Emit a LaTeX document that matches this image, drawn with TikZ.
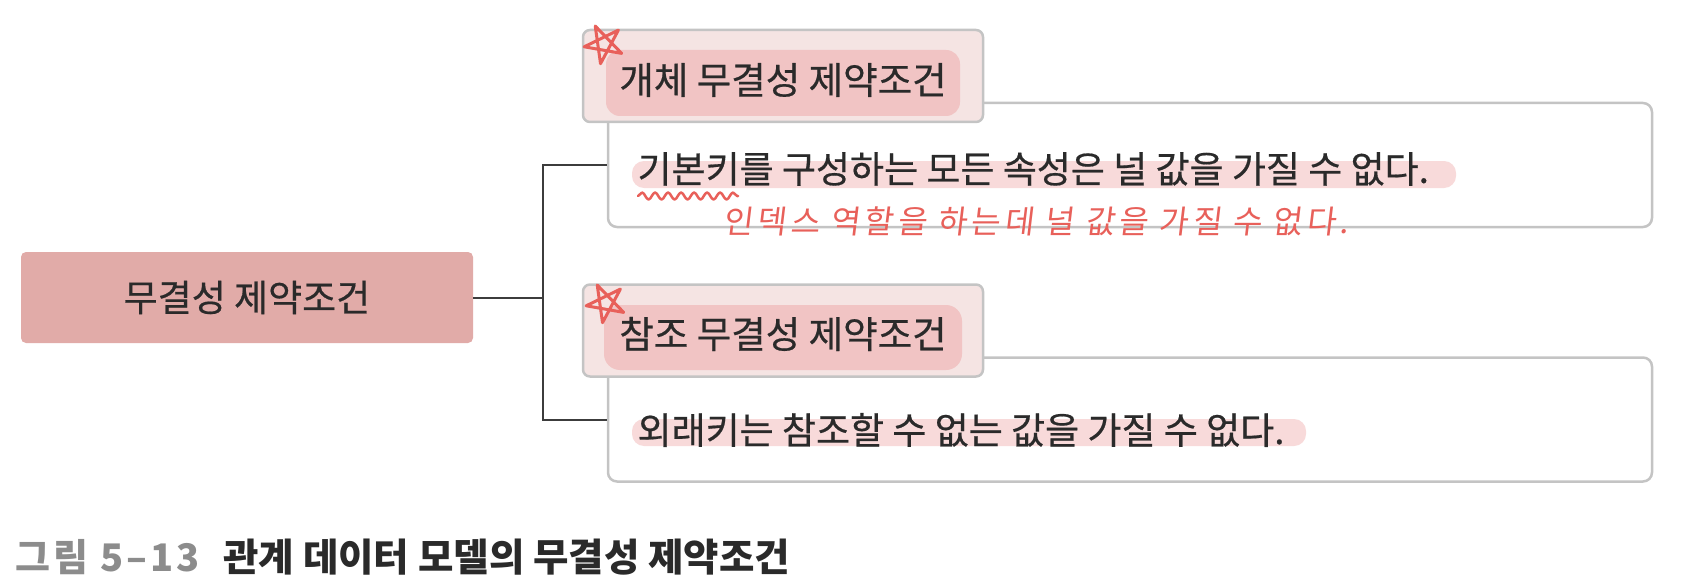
\documentclass[tikz,border=0pt]{standalone}
\usepackage{fontspec}
\setmainfont{Noto Sans CJK KR}
\newfontfamily\krmed[FakeBold=0.5]{Noto Sans CJK KR}
\newfontfamily\handfont[FakeSlant=0.12,LetterSpace=12]{Noto Sans CJK KR}
\newfontfamily\figfont[LetterSpace=8]{Noto Sans CJK KR}
\usetikzlibrary{positioning,decorations.pathmorphing}
\definecolor{topic}{HTML}{E1ABA8}
\definecolor{headfill}{HTML}{F5E4E3}
\definecolor{framegray}{HTML}{C4C4C4}
\definecolor{ink}{HTML}{2A2A2A}
\definecolor{linkgray}{HTML}{3C3C3C}
\definecolor{marker}{HTML}{F1C4C4}
\definecolor{markerlight}{HTML}{F8DADA}
\definecolor{pencolor}{HTML}{E8605A}
\definecolor{figno}{HTML}{8C8C8C}

\begin{document}
\begin{tikzpicture}[x=1pt,y=-1pt,
  topicbox/.style={fill=topic,rounded corners=5pt,minimum width=452pt,minimum height=91pt,
    font=\krmed\fontsize{37}{42}\selectfont,text=ink},
  headbox/.style={fill=headfill,draw=framegray,line width=2.5pt,rounded corners=7pt,
    minimum width=400pt,minimum height=92pt},
  bodybox/.style={fill=white,draw=framegray,line width=2.5pt,rounded corners=9pt,
    minimum width=1044pt,minimum height=124pt},
  headtext/.style={font=\krmed\fontsize{37.5}{42}\selectfont,text=ink},
  bodytext/.style={font=\krmed\fontsize{37}{42}\selectfont,text=ink,anchor=west},
  branch/.style={draw=linkgray,line width=2pt},
  redpen/.style={draw=pencolor,line width=3pt,line cap=round,line join=round}]
  \useasboundingbox (0,0) rectangle (1681,583);

  % Root
  \node[topicbox] (topic) at (247,297.5) {무결성 제약조건};

  % Rule boxes
  \node[bodybox] (entbody) at (1130,165) {};
  \node[bodybox] (refbody) at (1130,419.5) {};

  % Headers on top of the rule boxes
  \node[headbox] (enthead) at (783,76) {};
  \node[headbox] (refhead) at (783,330.5) {};

  % Tree lines
  \coordinate (fork) at (543,297.5);
  \draw[branch] (topic.east) -- (fork);
  \draw[branch] (entbody.west) -| (fork) |- (refbody.west);

  % Marker highlights
  \fill[marker,rounded corners=14pt] (606,50) rectangle (960,116);
  \fill[marker,rounded corners=16pt] (604,305) rectangle (962,370);
  \fill[markerlight,rounded corners=12pt] (632,161) rectangle (1456,188);
  \fill[markerlight,rounded corners=12pt] (632,419) rectangle (1306,446);

  % Texts
  \node[headtext] (entname) at (783,80) {개체 무결성 제약조건};
  \node[headtext] (refname) at (783,334) {참조 무결성 제약조건};
  \node[bodytext] (entrule) at (634,169) {기본키를 구성하는 모든 속성은 널 값을 가질 수 없다.};
  \node[bodytext] (refrule) at (634,430) {외래키는 참조할 수 없는 값을 가질 수 없다.};

  % Handwritten notes
  \draw[redpen,shift={(604,44)}] (100:20) -- (244:20) -- (28:20) -- (172:20) -- (316:20) -- cycle;
  \draw[redpen,shift={(606,303)}] (100:20) -- (244:20) -- (28:20) -- (172:20) -- (316:20) -- cycle;
  \draw[redpen,line width=2.5pt,decorate,decoration={snake,segment length=13pt,amplitude=3.5pt}]
    (638,196) -- (738,196);
  \node[anchor=west,text=pencolor,font=\handfont\fontsize{32}{36}\selectfont] (note) at (720,221)
    {인덱스 역할을 하는데 널 값을 가질 수 없다.};

  % Caption
  \node[anchor=west,text=figno,font=\figfont\bfseries\fontsize{38}{42}\selectfont] (figlabel) at (12,557) {그림 5–13};
  \node[anchor=west,text=ink,font=\bfseries\fontsize{38.5}{42}\selectfont] (figtitle) at (220,557)
    {관계 데이터 모델의 무결성 제약조건};
\end{tikzpicture}
\end{document}
